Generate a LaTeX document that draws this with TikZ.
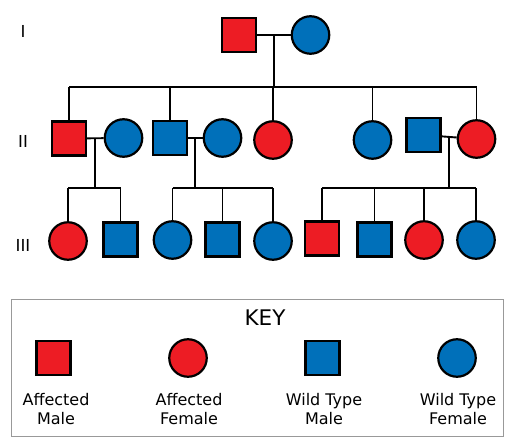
\documentclass[tikz,border=0pt]{standalone}
\usepackage{fontspec}
\setmainfont{DejaVu Sans}
\usetikzlibrary{positioning}
\definecolor{affred}{RGB}{237,28,36}
\definecolor{wtblue}{RGB}{0,112,186}
\tikzset{
  male/.style={draw=black,line width=2.2pt,rectangle,minimum size=34pt,inner sep=0pt},
  female/.style={draw=black,line width=2.2pt,circle,minimum size=37.5pt,inner sep=0pt},
  aff/.style={fill=affred},
  wt/.style={fill=wtblue},
  kin/.style={line width=1.9pt},
  gen/.style={font=\fontsize{16.5}{16.5}\selectfont},
  lbl/.style={align=center,font=\fontsize{16}{19.5}\selectfont},
}

\begin{document}
\begin{tikzpicture}[x=1pt,y=-1pt]
  \useasboundingbox (0,0) rectangle (513,443);
  % generation I
  \node [gen] (gI) at (23,31) {I};
  \node [male,aff] (I1) at (239,35) {};
  \node [female,wt] (I2) at (310.5,35) {};
  % generation II
  \node [gen] (gII) at (23,141) {II};
  \node [male,aff] (II1) at (69,138.5) {};
  \node [female,wt] (II2) at (123.5,138) {};
  \node [male,wt] (II3) at (170,138) {};
  \node [female,wt] (II4) at (222.5,138) {};
  \node [female,aff] (II5) at (273,140) {};
  \node [female,wt] (II6) at (372.5,140) {};
  \node [male,wt] (II7) at (423.5,135) {};
  \node [female,aff] (II8) at (476.5,139) {};
  % generation III
  \node [gen] (gIII) at (23,245) {III};
  \node [female,aff] (III1) at (68,241) {};
  \node [male,wt] (III2) at (120.5,239.5) {};
  \node [female,wt] (III3) at (172.5,240) {};
  \node [male,wt] (III4) at (222.5,239.5) {};
  \node [female,wt] (III5) at (273,241) {};
  \node [male,aff] (III6) at (322,238.5) {};
  \node [male,wt] (III7) at (374.5,239.5) {};
  \node [female,aff] (III8) at (424,240) {};
  \node [female,wt] (III9) at (476,240) {};

  % couples and their descent lines
  \draw [kin] (I1) -- (I2) coordinate[pos=0.5] (dI);
  \draw [kin] (II1) -- (II2) coordinate[pos=0.5] (dII1);
  \draw [kin] (II3) -- (II4) coordinate[pos=0.5] (dII2);
  \draw [kin] (II7) -- (II8) coordinate[pos=0.5] (dII3);
  \coordinate (sII) at (0,87);
  \coordinate (sIII) at (0,188);
  \draw [kin] (dI) -- (dI |- sII);
  \draw [kin] (dII1) -- (dII1 |- sIII);
  \draw [kin] (dII2) -- (dII2 |- sIII);
  \draw [kin] (dII3) -- (dII3 |- sIII);

  % sibships
  \draw [kin] (II1.north |- sII) -- (II8.north |- sII);
  \draw [kin] (III1.north |- sIII) -- (III2.north |- sIII);
  \draw [kin] (III3.north |- sIII) -- (III5.north |- sIII);
  \draw [kin] (III6.north |- sIII) -- (III9.north |- sIII);
  \foreach \c in {II1,II3,II5,II6,II8}
    \draw [kin] (\c.north) -- (\c.north |- sII);
  \foreach \c in {III1,III2,III3,III4,III5,III6,III7,III8,III9}
    \draw [kin] (\c.north) -- (\c.north |- sIII);

  % key
  \node [draw=gray!80,line width=1pt,minimum width=492pt,minimum height=137pt] (key) at (257,367.5) {};
  \node [font=\fontsize{21.5}{21.5}\selectfont] (keyt) at (265,318) {KEY};
  \node [male,aff] (kAM) at (53.5,358) {};
  \node [female,aff] (kAF) at (188,358) {};
  \node [male,wt] (kWM) at (322.5,358) {};
  \node [female,wt] (kWF) at (457,358) {};
  \node [lbl] (tAM) at (56,409) {Affected\\Male};
  \node [lbl] (tAF) at (189,409) {Affected\\Female};
  \node [lbl] (tWM) at (324,409) {Wild Type\\Male};
  \node [lbl] (tWF) at (458,409) {Wild Type\\Female};
\end{tikzpicture}
\end{document}
